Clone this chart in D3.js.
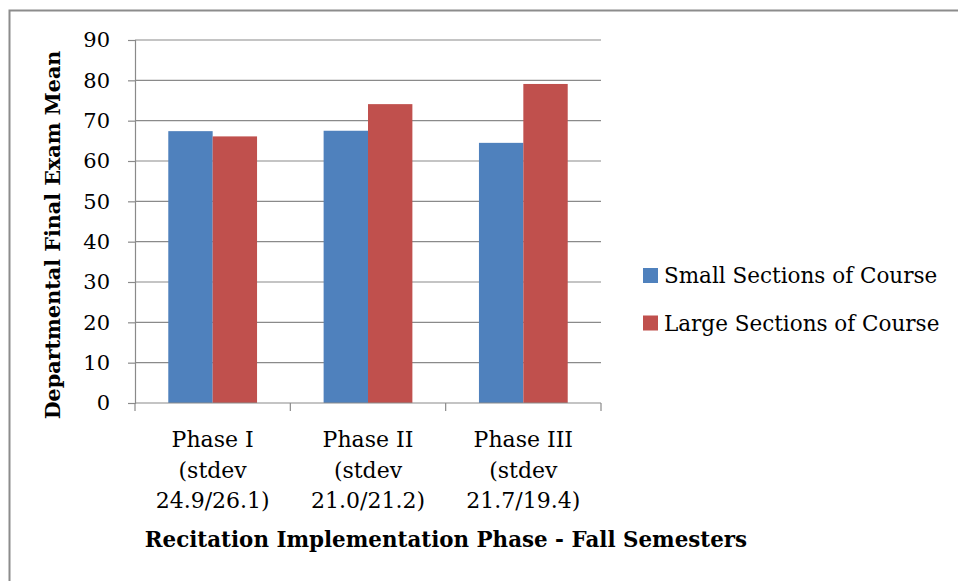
<!DOCTYPE html>
<html>
<head>
<meta charset="utf-8">
<script src="https://cdn.jsdelivr.net/npm/d3@7"></script>
<style>
  body { margin: 0; background: #fff; }
  text { font-family: "DejaVu Serif", serif; fill: #000; }
</style>
</head>
<body>
<svg></svg>
<script>
const width = 958, height = 581;

// data
const phases = ["Phase I", "Phase II", "Phase III"];
const phaseLabels = [
    ["Phase I", "(stdev", "24.9/26.1)"],
    ["Phase II", "(stdev", "21.0/21.2)"],
    ["Phase III", "(stdev", "21.7/19.4)"]
];
const seriesNames = ["Small Sections of Course", "Large Sections of Course"];
const smallSections = [67.4, 67.5, 64.5];
const largeSections = [66.1, 74.1, 79.1];
const yTicks = [0, 10, 20, 30, 40, 50, 60, 70, 80, 90];
const colors = ["#4f81bd", "#c0504d"];

const svg = d3.select("svg").attr("width", width).attr("height", height);

// outer frame
svg.append("rect")
    .attr("x", 9.5).attr("y", 10.5)
    .attr("width", width + 20).attr("height", height + 20)
    .attr("fill", "none").attr("stroke", "#8c8c8c").attr("stroke-width", 2);

const plot = {left: 135, right: 601, top: 40, bottom: 403};

const x0 = d3.scaleBand()
    .domain(phases)
    .range([plot.left, plot.right]);

// gap width 150% of a bar, split on both sides of a group
const barW = x0.bandwidth() / (2 + 1.5);
const x1 = d3.scaleBand()
    .domain([0, 1])
    .range([0, barW * 2]);

const y = d3.scaleLinear()
    .domain([0, 90])
    .range([plot.bottom, plot.top]);

// gridlines
svg.append("g")
    .selectAll("line")
    .data(yTicks.filter(d => d > 0))
    .join("line")
    .attr("x1", plot.left).attr("x2", plot.right)
    .attr("y1", d => y(d)).attr("y2", d => y(d))
    .attr("stroke", "#8a8a8a").attr("stroke-width", 1.2);

// bars
const data = phases.map((p, i) => ({phase: p, values: [smallSections[i], largeSections[i]]}));
const groups = svg.append("g")
    .selectAll("g")
    .data(data)
    .join("g")
    .attr("transform", d => `translate(${x0(d.phase) + (x0.bandwidth() - barW * 2) / 2},0)`);

groups.selectAll("rect")
    .data(d => d.values)
    .join("rect")
    .attr("x", (d, i) => x1(i))
    .attr("y", d => y(d))
    .attr("width", x1.bandwidth())
    .attr("height", d => y(0) - y(d))
    .attr("fill", (d, i) => colors[i]);

// y axis
const yAxis = d3.axisLeft(y).tickValues(yTicks).tickSize(7).tickPadding(18);
const gy = svg.append("g").attr("transform", `translate(${plot.left},0)`).call(yAxis);
gy.select(".domain").attr("stroke", "#8a8a8a").attr("stroke-width", 1.2);
gy.selectAll(".tick line").attr("stroke", "#8a8a8a").attr("stroke-width", 1.2);
gy.selectAll(".tick text")
    .attr("font-family", "DejaVu Serif")
    .attr("font-size", 21)
    .attr("fill", "#000");

// x axis
const gx = svg.append("g").attr("transform", `translate(0,${plot.bottom})`);
gx.append("line")
    .attr("x1", plot.left).attr("x2", plot.right)
    .attr("y1", 0).attr("y2", 0)
    .attr("stroke", "#8a8a8a").attr("stroke-width", 1.2);
const boundaries = phases.map(p => x0(p)).concat([plot.right]);
gx.selectAll("line.tick")
    .data(boundaries)
    .join("line")
    .attr("class", "tick")
    .attr("x1", d => d).attr("x2", d => d)
    .attr("y1", 0).attr("y2", 8)
    .attr("stroke", "#8a8a8a").attr("stroke-width", 1.2);

const catText = svg.append("g")
    .selectAll("text")
    .data(phases)
    .join("text")
    .attr("x", d => x0(d) + x0.bandwidth() / 2)
    .attr("y", 447)
    .attr("text-anchor", "middle")
    .attr("font-size", 22);
catText.selectAll("tspan")
    .data((d, i) => phaseLabels[i])
    .join("tspan")
    .attr("x", function () { return d3.select(this.parentNode).attr("x"); })
    .attr("dy", (d, i) => i === 0 ? 0 : 30.5)
    .text(d => d);

// axis titles
svg.append("text")
    .attr("x", 446).attr("y", 547)
    .attr("text-anchor", "middle")
    .attr("font-size", 21.4)
    .attr("font-weight", "bold")
    .text("Recitation Implementation Phase - Fall Semesters");

svg.append("text")
    .attr("transform", "translate(60,235) rotate(-90)")
    .attr("text-anchor", "middle")
    .attr("font-size", 20.7)
    .attr("font-weight", "bold")
    .text("Departmental Final Exam Mean");

// legend
const legend = svg.append("g")
    .selectAll("g")
    .data(seriesNames)
    .join("g")
    .attr("transform", (d, i) => `translate(643,${268 + i * 47.5})`);
legend.append("rect")
    .attr("width", 15).attr("height", 15)
    .attr("fill", (d, i) => colors[i]);
legend.append("text")
    .attr("x", 21).attr("y", 15)
    .attr("font-size", 21.5)
    .text(d => d);
</script>
</body>
</html>
